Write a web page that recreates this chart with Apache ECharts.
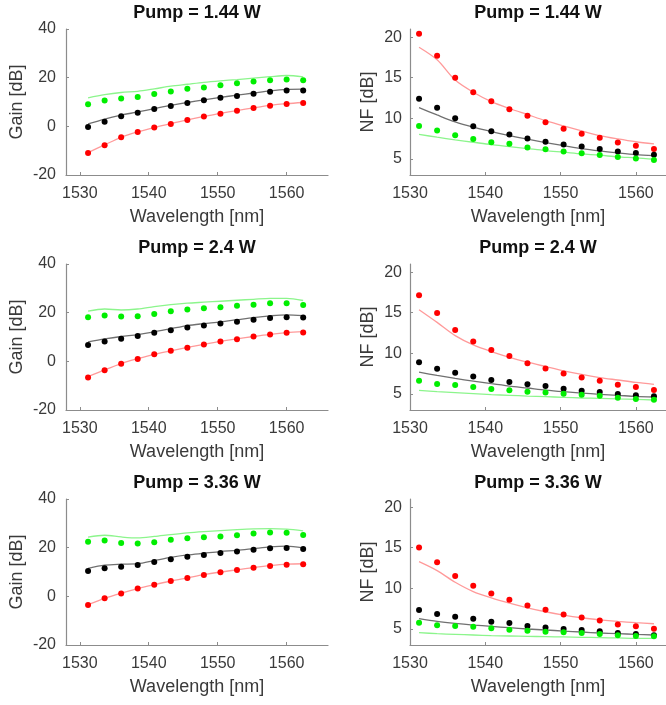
<!DOCTYPE html>
<html>
<head>
<meta charset="utf-8">
<script src="https://cdn.jsdelivr.net/npm/echarts@6/dist/echarts.min.js"></script>
<style>html,body{margin:0;padding:0;background:#fff}#c{width:666px;height:705px}</style>
</head>
<body>
<div id="c"></div>
<script>
const wavelengths = [1531.2, 1533.6, 1536.0, 1538.4, 1540.8, 1543.2, 1545.6, 1548.0, 1550.4, 1552.8, 1555.2, 1557.6, 1560.0, 1562.4];
const pumpTitles = ['Pump = 1.44 W', 'Pump = 2.4 W', 'Pump = 3.36 W'];
const xTickValues = [1530, 1540, 1550, 1560];
const gainTickValues = [-20, 0, 20, 40];
const nfTickValues = [5, 10, 15, 20];

// Gain, Pump = 1.44 W
const gain144MeasRed = [-11.0, -7.8, -4.5, -2.3, -0.5, 1.0, 2.6, 4.0, 5.2, 6.4, 7.5, 8.5, 9.2, 9.6];
const gain144SimRed = [-10.8, -7.6, -4.5, -2.3, -0.5, 1.1, 2.7, 4.1, 5.3, 6.5, 7.6, 8.6, 9.3, 9.8];
const gain144MeasBlack = [-0.3, 1.9, 4.1, 5.6, 7.1, 8.4, 9.6, 10.7, 11.7, 12.5, 13.4, 14.2, 14.7, 14.7];
const gain144SimBlack = [1.0, 3.0, 4.6, 5.9, 7.3, 8.6, 9.8, 10.9, 11.9, 12.8, 13.7, 14.6, 15.2, 15.3];
const gain144MeasGreen = [9.1, 10.6, 11.4, 12.1, 13.3, 14.3, 15.4, 16.0, 16.9, 17.7, 18.4, 18.9, 19.2, 18.9];
const gain144SimGreen = [11.7, 13.0, 13.9, 14.4, 15.4, 16.5, 17.3, 18.1, 18.7, 19.2, 19.8, 20.4, 20.9, 20.3];
// Gain, Pump = 2.4 W
const gain24MeasRed = [-6.6, -3.7, -1.0, 1.0, 2.9, 4.3, 5.6, 6.9, 8.1, 9.1, 10.2, 11.0, 11.7, 11.9];
const gain24SimRed = [-6.3, -3.5, -0.9, 1.1, 2.9, 4.3, 5.7, 7.0, 8.2, 9.2, 10.2, 11.1, 11.8, 12.2];
const gain24MeasBlack = [6.7, 8.2, 9.3, 10.4, 11.7, 12.8, 13.9, 14.7, 15.5, 16.3, 17.1, 17.8, 18.1, 18.0];
const gain24SimBlack = [8.0, 9.2, 10.2, 11.0, 12.1, 13.4, 14.7, 15.5, 16.2, 17.1, 18.0, 18.7, 19.1, 18.8];
const gain24MeasGreen = [18.1, 18.8, 18.4, 18.5, 19.5, 20.6, 21.3, 21.8, 22.2, 22.8, 23.3, 23.9, 23.9, 23.2];
const gain24SimGreen = [20.6, 21.5, 21.1, 21.5, 22.5, 23.3, 23.9, 24.3, 24.7, 25.1, 25.5, 25.9, 25.9, 25.0];
// Gain, Pump = 3.36 W
const gain336MeasRed = [-3.6, -0.8, 1.2, 3.2, 4.8, 6.3, 7.5, 8.8, 9.9, 10.8, 11.7, 12.5, 13.0, 13.2];
const gain336SimRed = [-3.4, -0.8, 1.3, 3.2, 4.8, 6.3, 7.6, 8.9, 10.0, 10.9, 11.8, 12.6, 13.2, 13.4];
const gain336MeasBlack = [10.4, 11.5, 12.2, 12.9, 14.1, 15.2, 16.3, 17.0, 17.8, 18.4, 19.1, 19.8, 19.9, 19.5];
const gain336SimBlack = [11.5, 12.8, 13.2, 13.4, 14.7, 16.0, 17.0, 17.7, 18.4, 18.9, 19.6, 20.3, 20.6, 19.9];
const gain336MeasGreen = [22.4, 22.9, 21.9, 21.7, 22.2, 23.3, 23.9, 24.3, 24.6, 25.1, 25.8, 26.2, 26.1, 25.2];
const gain336SimGreen = [24.3, 25.1, 24.4, 24.0, 24.6, 25.4, 26.1, 26.6, 27.0, 27.4, 27.7, 27.8, 27.6, 26.9];

// NF, Pump = 1.44 W
const nf144MeasRed = [20.4, 17.7, 15.0, 13.2, 12.1, 11.1, 10.3, 9.5, 8.7, 8.1, 7.6, 7.0, 6.6, 6.2];
const nf144SimRed = [18.75, 17.2, 14.7, 13.2, 12.05, 11.2, 10.45, 9.7, 9.05, 8.44, 7.86, 7.45, 7.1, 6.84];
const nf144MeasBlack = [12.4, 11.3, 10.0, 9.0, 8.4, 8.0, 7.5, 7.1, 6.75, 6.5, 6.2, 5.9, 5.7, 5.5];
const nf144SimBlack = [11.3, 10.4, 9.55, 8.9, 8.36, 7.86, 7.41, 7.0, 6.63, 6.26, 5.97, 5.73, 5.52, 5.4];
const nf144MeasGreen = [9.05, 8.48, 7.9, 7.45, 7.04, 6.84, 6.38, 6.18, 5.89, 5.68, 5.48, 5.23, 5.03, 4.86];
const nf144SimGreen = [8.0, 7.66, 7.33, 7.04, 6.75, 6.51, 6.26, 6.01, 5.81, 5.6, 5.44, 5.23, 5.11, 4.94];
// NF, Pump = 2.4 W
const nf24MeasRed = [17.16, 14.95, 12.86, 11.43, 10.41, 9.67, 8.77, 8.12, 7.51, 7.01, 6.61, 6.11, 5.83, 5.46];
const nf24SimRed = [15.36, 13.8, 12.17, 11.02, 10.2, 9.5, 8.9, 8.36, 7.83, 7.38, 7.0, 6.7, 6.4, 6.16];
const nf24MeasBlack = [8.9, 8.08, 7.59, 7.14, 6.69, 6.44, 6.16, 5.95, 5.62, 5.38, 5.21, 4.97, 4.81, 4.68];
const nf24SimBlack = [7.67, 7.26, 6.89, 6.56, 6.24, 5.95, 5.71, 5.46, 5.26, 5.09, 4.93, 4.81, 4.68, 4.6];
const nf24MeasGreen = [6.61, 6.2, 6.07, 5.83, 5.58, 5.42, 5.26, 5.17, 5.01, 4.89, 4.76, 4.52, 4.36, 4.27];
const nf24SimGreen = [5.42, 5.26, 5.13, 5.01, 4.89, 4.81, 4.72, 4.64, 4.56, 4.48, 4.44, 4.36, 4.31, 4.23];
// NF, Pump = 3.36 W
const nf336MeasRed = [15.03, 13.19, 11.51, 10.29, 9.35, 8.57, 7.87, 7.34, 6.77, 6.4, 6.03, 5.54, 5.3, 5.01];
const nf336SimRed = [13.27, 12.17, 10.74, 9.59, 8.81, 8.16, 7.59, 7.1, 6.69, 6.36, 6.11, 5.91, 5.75, 5.62];
const nf336MeasBlack = [7.3, 6.81, 6.48, 6.24, 5.87, 5.71, 5.34, 5.17, 4.97, 4.85, 4.68, 4.48, 4.36, 4.19];
const nf336SimBlack = [6.24, 5.91, 5.66, 5.46, 5.3, 5.13, 4.97, 4.85, 4.72, 4.6, 4.48, 4.4, 4.31, 4.23];
const nf336MeasGreen = [5.75, 5.42, 5.34, 5.26, 5.05, 4.89, 4.76, 4.64, 4.56, 4.48, 4.36, 4.19, 4.11, 4.07];
const nf336SimGreen = [4.52, 4.4, 4.31, 4.23, 4.15, 4.11, 4.07, 4.03, 3.99, 3.95, 3.91, 3.87, 3.82, 3.82];

const panels = [
  {row: 0, col: 0, kind: 'gain', meas: [gain144MeasRed, gain144MeasBlack, gain144MeasGreen], sim: [gain144SimRed, gain144SimBlack, gain144SimGreen]},
  {row: 0, col: 1, kind: 'nf', meas: [nf144MeasRed, nf144MeasBlack, nf144MeasGreen], sim: [nf144SimRed, nf144SimBlack, nf144SimGreen]},
  {row: 1, col: 0, kind: 'gain', meas: [gain24MeasRed, gain24MeasBlack, gain24MeasGreen], sim: [gain24SimRed, gain24SimBlack, gain24SimGreen]},
  {row: 1, col: 1, kind: 'nf', meas: [nf24MeasRed, nf24MeasBlack, nf24MeasGreen], sim: [nf24SimRed, nf24SimBlack, nf24SimGreen]},
  {row: 2, col: 0, kind: 'gain', meas: [gain336MeasRed, gain336MeasBlack, gain336MeasGreen], sim: [gain336SimRed, gain336SimBlack, gain336SimGreen]},
  {row: 2, col: 1, kind: 'nf', meas: [nf336MeasRed, nf336MeasBlack, nf336MeasGreen], sim: [nf336SimRed, nf336SimBlack, nf336SimGreen]}
];

const dotColors = ['#ff0000', '#000000', '#00ee00'];
const lineColors = ['#ff9a9a', '#707070', '#8cf58c'];
const FONT = "'Liberation Sans', Arial, sans-serif";
const TXT = '#3a3a3a';
const AX = '#8c8c8c';

const grids = [], xAxes = [], yAxes = [], titles = [], series = [];
const ROW_STEP = 235, TOP0 = 29, H = 146;
const colGeom = [{left: 66, width: 262}, {left: 410, width: 256}];

panels.forEach((p, i) => {
  const g = colGeom[p.col];
  const top = TOP0 + ROW_STEP * p.row;
  grids.push({left: g.left, top: top, width: g.width, height: H, containLabel: false});
  titles.push({
    text: pumpTitles[p.row], left: g.left + g.width / 2, top: top - 25, textAlign: 'center', padding: 0,
    textStyle: {fontFamily: FONT, fontSize: 18, fontWeight: 'bold', color: '#111'}
  });
  const isGain = p.kind === 'gain';
  xAxes.push({
    type: 'value', gridIndex: i,
    min: isGain ? 1528 : 1530, max: isGain ? 1566 : 1564,
    name: 'Wavelength [nm]', nameLocation: 'middle', nameGap: 33,
    nameTextStyle: {fontFamily: FONT, fontSize: 18, color: TXT},
    axisLine: {show: true, onZero: false, lineStyle: {color: AX, width: 1.2}},
    axisTick: {show: true, inside: true, length: 3, customValues: xTickValues, lineStyle: {color: AX}},
    axisLabel: {customValues: xTickValues, formatter: v => String(v), fontFamily: FONT, fontSize: 16, color: TXT, margin: 11},
    splitLine: {show: false}
  });
  yAxes.push({
    type: 'value', gridIndex: i,
    min: isGain ? -20 : 3, max: isGain ? 40 : 21,
    name: isGain ? 'Gain [dB]' : 'NF [dB]', nameLocation: 'middle', nameGap: isGain ? 40 : 33, nameRotate: 90,
    nameTextStyle: {fontFamily: FONT, fontSize: 18, color: TXT},
    axisLine: {show: true, onZero: false, lineStyle: {color: AX, width: 1.2}},
    axisTick: {show: true, inside: true, length: 3, customValues: isGain ? gainTickValues : nfTickValues, lineStyle: {color: AX}},
    axisLabel: {customValues: isGain ? gainTickValues : nfTickValues, formatter: v => String(v), fontFamily: FONT, fontSize: 16, color: TXT, margin: isGain ? 10 : 8},
    splitLine: {show: false}
  });
  for (let k = 0; k < 3; k++) {
    series.push({
      type: 'line', xAxisIndex: i, yAxisIndex: i, smooth: 0.3, showSymbol: false, silent: true,
      data: wavelengths.map((w, j) => [w, p.sim[k][j]]),
      lineStyle: {color: lineColors[k], width: 1.3}, z: 2
    });
  }
  for (let k = 0; k < 3; k++) {
    series.push({
      type: 'scatter', xAxisIndex: i, yAxisIndex: i, symbolSize: 6, silent: true,
      data: wavelengths.map((w, j) => [w, p.meas[k][j]]),
      itemStyle: {color: dotColors[k], opacity: 1}, z: 3
    });
  }
});

const chart = echarts.init(document.getElementById('c'), null, {renderer: 'canvas'});
chart.setOption({
  animation: false,
  backgroundColor: '#fff',
  title: titles, grid: grids, xAxis: xAxes, yAxis: yAxes, series: series
});
</script>
</body>
</html>
